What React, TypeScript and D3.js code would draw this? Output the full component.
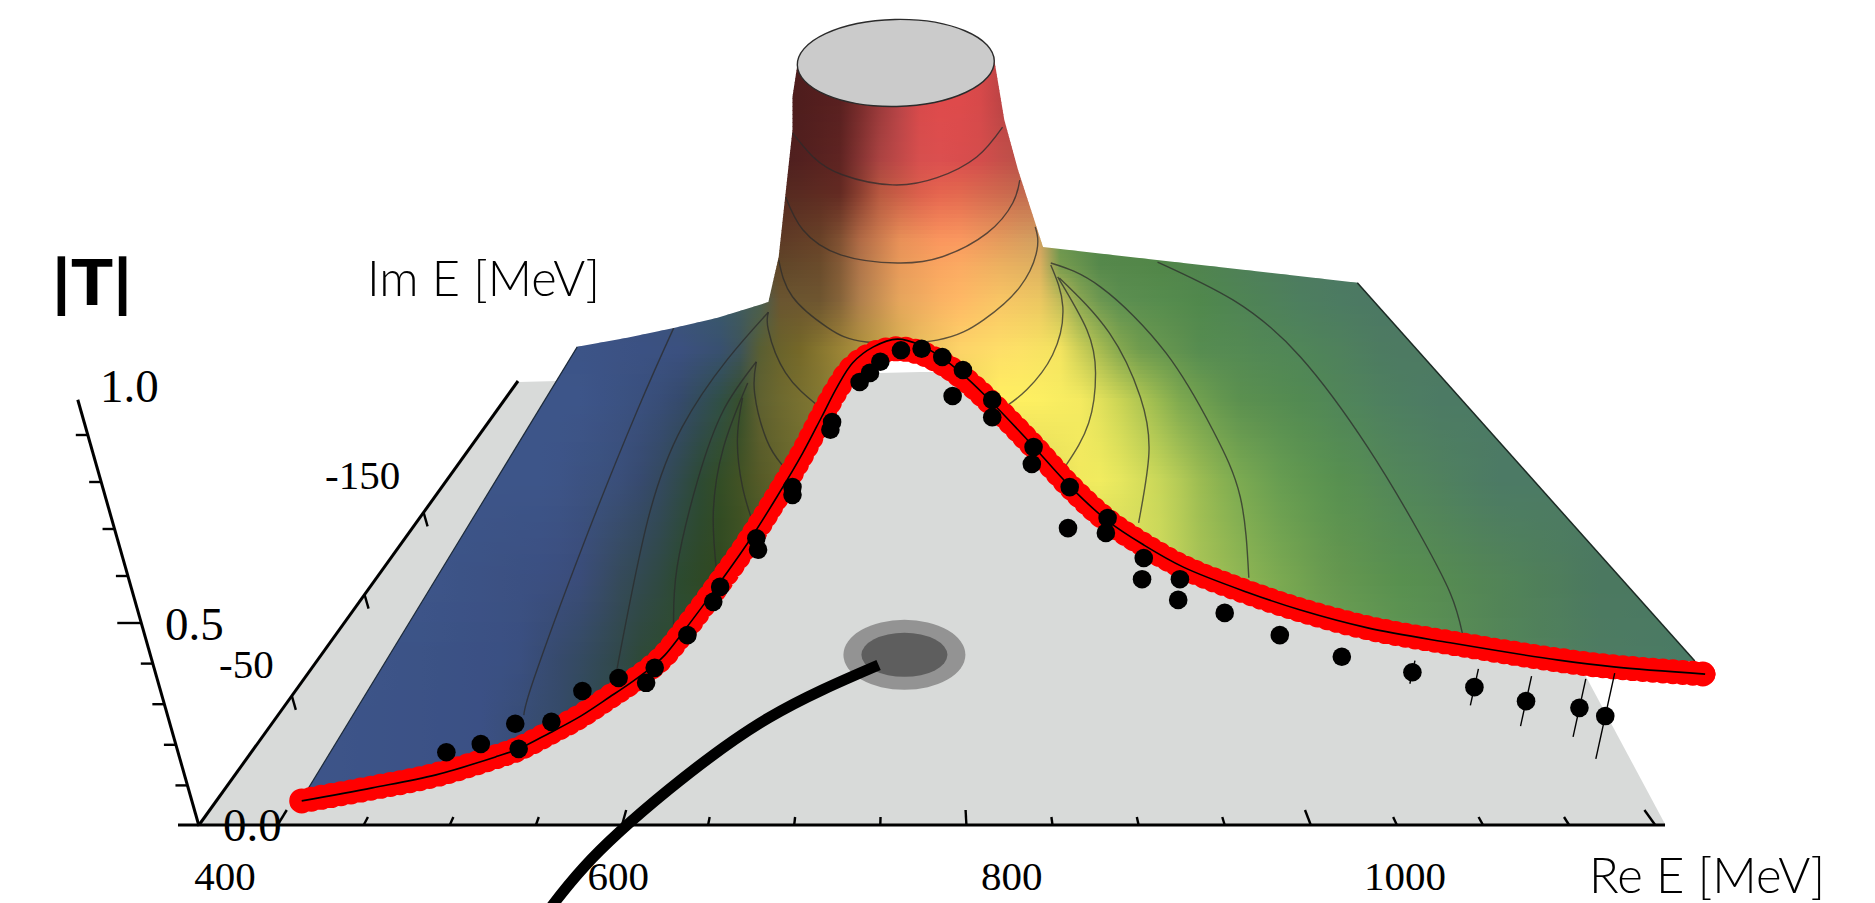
import React, { useMemo } from "react";
import * as d3 from "d3";

// Re E [MeV] and |T|
const curveRe = [414,455,492,528,540,558,576,593,605,616,625,635,655,673,690,705,716,725,734,746,760,773,786,800,815,837,860,882,903,926,963,994,1033,1081,1144,1176,1229];
const curveT = [.05,.077,.104,.143,.158,.191,.226,.266,.295,.324,.353,.398,.494,.585,.681,.772,.847,.909,.959,.992,1.008,.996,.969,.928,.876,.793,.703,.631,.581,.535,.483,.446,.409,.378,.342,.328,.313];
// the thick red tube sits a little lower than the black line at the peak
const tubeT = [.05,.077,.104,.143,.158,.191,.226,.266,.295,.324,.353,.398,.494,.585,.681,.772,.847,.905,.95,.978,.988,.98,.958,.922,.873,.793,.703,.631,.581,.535,.483,.446,.409,.378,.342,.328,.313];

// measured points
const dotRe = [498,518,538,540,559,577,598,614,619,638,653,657,678,679,699,699,722,721,738,744,750,762,774,786,798,792,815,815,839,838,860,859,882,881,903,902,924,923,950,982,1018,1059,1095,1125,1156,1171];
const dotT = [.151,.168,.21,.158,.214,.278,.305,.295,.326,.394,.463,.494,.595,.571,.701,.685,.836,.82,.919,.938,.961,.985,.988,.971,.944,.89,.882,.846,.784,.749,.701,.616,.637,.606,.554,.51,.51,.467,.44,.394,.349,.317,.286,.257,.243,.226];
const dotErr = [0,0,0,0,0,0,0,0,0,0,0,0,0,0,0,0,0,0,0,0,0,0,0,0,0,0,0,0,0,0,0,0,0,0,0,0,0,0,0,0,0,.024,.038,.052,.06,.089];

// outline of the surface above the curve, from the right end anticlockwise
const surfaceRe = [1223,1027,844.5,840,830,822,816,702,699,699,695,691,685,655,630,603,574,418];
const surfaceT = [.34,1.125,1.199,1.249,1.359,1.463,1.592,1.581,1.511,1.442,1.311,1.179,1.085,1.052,1.031,1.011,.992,.077];

// floor plane
const floorRe = [354,1206,1065,773,540];
const floorT = [0,0,.94,.94,.919];

// contour lines of |T|, each as Re and height pairs
const contours: [number, number][][] = [
  [[699,1.436],[711,1.386],[728,1.349],[757,1.328],[783,1.343],[806,1.386],[821,1.448]],
  [[695,1.303],[705,1.235],[727,1.183],[760,1.166],[786,1.179],[812,1.228],[827,1.291],[831,1.338]],
  [[691,1.172],[699,1.096],[719,1.033],[742,1.002],[783,1.006],[810,1.048],[831,1.116],[841,1.193],[840,1.241]],
  [[685,1.064],[685,1.027],[695,.938],[714,.869]],
  [[849,1.162],[856,1.075],[850,.975],[835,.903],[824,.871]],
  [[678,.961],[677,.896],[684,.799],[693,.747]],
  [[853,1.137],[870,1.027],[875,.938],[871,.834],[858,.747]],
  [[854,1.135],[883,1.021],[901,.888],[906,.772],[900,.627]],
  [[849,1.166],[878,1.116],[916,.979],[943,.82],[959,.681],[964,.513]],
  [[911,1.168],[955,1.089],[994,.971],[1033,.784],[1062,.612],[1081,.481],[1088,.398]],
  [[630,1.031],[609,.861],[577,.577],[549,.305],[543,.228]],
  [[685,1.064],[661,.965],[635,.826],[615,.633],[597,.322]],
  [[678,.961],[659,.861],[644,.716],[632,.535],[630,.411]],
  [[673,.917],[659,.784],[653,.647],[655,.523]],
  [[670,.886],[667,.799],[670,.701],[676,.627]],
];

// thick black path to the pole
const pathRe = [749,685,627,578,541];
const pathT = [.332,.222,.073,-.087,-.259];
const poleRe = 764;
const poleT = .353;
const capRe = 759;
const capT = 1.581;

const reTickValues = d3.range(400, 1201, 50);
const reLabels = [400, 600, 800, 1000];
const imTickValues = [-50, -100, -150];
const imLabels = [-50, -150];
const tTickValues = [.1,.2,.3,.4,.5,.6,.7,.8,.9];
const tLabels = [{ v: "1.0", x: 100, y: 402 }, { v: "0.5", x: 165, y: 640 }, { v: "0.0", x: 223, y: 841 }];

// colour of the painted surface, sampled from the picture by image row
const topStops: [number, string][] = [[780,"#4a1c1c"],[845,"#5a2020"],[870,"#8a3333"],[900,"#b84447"],[925,"#e04a4b"],[975,"#dd4a4b"],[1010,"#b24242"]];
const lowStops: [number, string][] = [[300,"#3d5589"],[480,"#3b5085"],[560,"#354a68"],[600,"#2f4a4c"],[1400,"#5f9555"],[1680,"#4a7a65"]];
const shadeRows: { y: number; stops: [number, string][] }[] = [
  { y: 10, stops: topStops },
  { y: 100, stops: topStops },
  { y: 160, stops: [[785,"#4d1f1e"],[843,"#602422"],[875,"#a54240"],[925,"#dc5050"],[975,"#d84c4c"],[1015,"#bb5048"]] },
  { y: 193, stops: [[785,"#552a20"],[843,"#642a22"],[880,"#b85840"],[925,"#e0604e"],[950,"#e8684f"],[1019,"#c46a4e"]] },
  { y: 240, stops: [[778,"#5d3a26"],[830,"#6a4428"],[860,"#b06a45"],[900,"#e89058"],[950,"#ff9860"],[1000,"#e49a5c"],[1040,"#d0a060"],[1050,"#6f9a50"],[1100,"#55884b"],[1200,"#518648"],[1300,"#4d7e5c"]] },
  { y: 265, stops: [[775,"#5f4528"],[830,"#6c4c2c"],[860,"#b0754a"],[900,"#e89a5a"],[950,"#ffa862"],[1000,"#ecb060"],[1040,"#dcb060"],[1052,"#7d9f4f"],[1100,"#55884b"],[1167,"#518648"],[1267,"#4e7e5c"],[1340,"#4c7864"]] },
  { y: 300, stops: [[640,"#3b5080"],[720,"#3a5a6a"],[765,"#4a5f4f"],[775,"#6a5530"],[830,"#6f5530"],[860,"#b07f4c"],[900,"#e6a55c"],[950,"#ffb565"],[1000,"#f8c565"],[1050,"#e8c860"],[1070,"#98ad52"],[1110,"#5d9050"],[1200,"#50884c"],[1300,"#4d7e5f"],[1370,"#4c7864"]] },
  { y: 350, stops: [[570,"#3c5488"],[680,"#3b5080"],[735,"#37506a"],[752,"#4a5a38"],[765,"#62602e"],[800,"#756828"],[870,"#b5983f"],[920,"#e8c05c"],[960,"#fdd468"],[1010,"#fee068"],[1060,"#f4e460"],[1090,"#b8c452"],[1130,"#749f4e"],[1200,"#568c50"],[1300,"#508658"],[1390,"#4d7a62"]] },
  { y: 400, stops: [[520,"#3d5589"],[583,"#3d5589"],[650,"#3a4f7c"],[683,"#35496a"],[717,"#2f4f4a"],[740,"#374f2c"],[757,"#5e6030"],[783,"#6f6a2f"],[817,"#807530"],[1000,"#fff060"],[1033,"#fdf062"],[1083,"#f3ea60"],[1117,"#ced656"],[1150,"#a3bf50"],[1183,"#7aa74f"],[1233,"#5c914f"],[1300,"#528a52"],[1383,"#4e8060"],[1433,"#4c7a64"]] },
  { y: 480, stops: [[490,"#3d5589"],[550,"#3d5589"],[617,"#3a4f7a"],[650,"#36486a"],[683,"#2f4a48"],[710,"#2c4a28"],[733,"#3c5023"],[767,"#5b5c28"],[1090,"#f6ee60"],[1117,"#e8e85e"],[1167,"#c2d358"],[1200,"#9cbc52"],[1233,"#7fac51"],[1283,"#659c51"],[1333,"#58914f"],[1400,"#52865a"],[1500,"#4c7a65"]] },
  { y: 580, stops: [[420,"#3d5589"],[550,"#3b4f80"],[583,"#3a4c78"],[617,"#354a5c"],[650,"#30484a"],[683,"#2c4a2c"],[717,"#30481f"],[1150,"#d8e05e"],[1200,"#a8c456"],[1250,"#8ab352"],[1283,"#7aa851"],[1333,"#66984f"],[1400,"#58904f"],[1450,"#558a52"],[1600,"#4b7860"]] },
  { y: 660, stops: [[360,"#3d5589"],[517,"#3a4f82"],[550,"#374a70"],[583,"#344a60"],[617,"#30484a"],[650,"#2d4a30"],[1300,"#75a853"],[1400,"#619755"],[1500,"#538558"],[1600,"#4e7c62"],[1680,"#4a7a65"]] },
  { y: 720, stops: lowStops },
  { y: 815, stops: lowStops },
];

const W = 1875;
const H = 903;
const BASE = 825;
const serif = "'Liberation Serif', serif";
const sans = "Lato, 'Noto Sans', sans-serif";

const xRe = d3.scaleLinear().domain([400, 1200]).range([277.6, 1655.2]);
const yT = d3.scaleLinear().domain([0, 1]).range([BASE, 343]);
const reLabelX = d3.scaleLinear().domain([400, 1000]).range([225, 1405]);
const vanish: [number, number] = [911, -210];

// axis for Im E rises along the floor's left edge with perspective
const imFrac = d3.scaleLinear().domain([0, -50, -100, -150, -250]).range([0, 0.291, 0.519, 0.704, 1]);
const imX = d3.scaleLinear().domain([0, 1]).range([199, 518]);
const imY = d3.scaleLinear().domain([0, 1]).range([BASE, 381]);
// |T| axis leans left
const axisTY = d3.scaleLinear().domain([0, 0.5, 1]).range([826, 623, 388]);
const axisTX = (v: number) => 199 - (826 - axisTY(v)) * (122 / 429);

function sampleRow(stops: [number, string][], x: number): string {
  if (x <= stops[0][0]) return stops[0][1];
  const last = stops[stops.length - 1];
  if (x >= last[0]) return last[1];
  const i = d3.bisectRight(stops.map((s) => s[0]), x);
  const [x0, c0] = stops[i - 1];
  const [x1, c1] = stops[i];
  return d3.interpolateRgb(c0, c1)((x - x0) / (x1 - x0));
}

function sampleAt(y: number, x: number): string {
  const ys = shadeRows.map((r) => r.y);
  const i = Math.min(Math.max(d3.bisectRight(ys, y), 1), ys.length - 1);
  const a = shadeRows[i - 1];
  const b = shadeRows[i];
  const t = Math.max(0, Math.min(1, (y - a.y) / (b.y - a.y)));
  return d3.interpolateRgb(sampleRow(a.stops, x), sampleRow(b.stops, x))(t);
}

const smooth = d3.line<[number, number]>().x((d) => xRe(d[0])).y((d) => yT(d[1])).curve(d3.curveCatmullRom.alpha(0.5));
const natural = d3.line<[number, number]>().x((d) => xRe(d[0])).y((d) => yT(d[1])).curve(d3.curveNatural);
const straight = d3.line<[number, number]>().x((d) => xRe(d[0])).y((d) => yT(d[1]));
const zip = (a: number[], b: number[]) => a.map((v, i) => [v, b[i]] as [number, number]);

export default function App() {
  const curve = zip(curveRe, curveT);
  const curveD = smooth(curve) as string;
  const tubeD = smooth(zip(curveRe, tubeT)) as string;
  const surface = zip(surfaceRe, surfaceT);
  const clipD = useMemo(() => {
    const lower = curve.filter((p) => p[0] > surfaceRe[surfaceRe.length - 1] && p[0] < surfaceRe[0]);
    const body = smooth(lower) as string;
    const tail = straight(surface) as string;
    return `${tail}L${body.slice(1)}Z`;
  }, []);

  const strips = useMemo(() => {
    const STEP = 4;
    const GRID = 20;
    const x0 = 280;
    const x1 = 1720;
    const out: { y: number; id: string; stops: { o: number; c: string }[] }[] = [];
    for (let y = 14; y < 815; y += STEP) {
      const stops: { o: number; c: string }[] = [];
      for (let x = x0; x <= x1; x += GRID) {
        stops.push({ o: (x - x0) / (x1 - x0), c: sampleAt(y + STEP / 2, x) });
      }
      out.push({ y, id: `strip-${y}`, stops });
    }
    return { out, x0, x1, STEP };
  }, []);

  return (
    <svg width={W} height={H} viewBox={`0 0 ${W} ${H}`} style={{ position: "absolute", left: 0, top: 0, display: "block", background: "#fff" }}>
      <defs>
        <clipPath id="surface-clip"><path d={clipD} /></clipPath>
        {strips.out.map((s) => (
          <linearGradient key={s.id} id={s.id} gradientUnits="userSpaceOnUse" x1={strips.x0} x2={strips.x1} y1={0} y2={0}>
            {s.stops.map((st, i) => <stop key={i} offset={st.o} stopColor={st.c} />)}
          </linearGradient>
        ))}
      </defs>

      {/* floor */}
      <path d={(straight(zip(floorRe, floorT)) as string) + "Z"} fill="#d8dad9" />
      <ellipse cx={xRe(poleRe)} cy={yT(poleT)} rx={61} ry={35} fill="#939393" />
      <ellipse cx={xRe(poleRe)} cy={yT(poleT)} rx={43} ry={22} fill="#5e5e5e" />

      {/* surface */}
      <g clipPath="url(#surface-clip)">
        {strips.out.map((s) => (
          <rect key={s.id} x={strips.x0} y={s.y} width={strips.x1 - strips.x0} height={strips.STEP + 0.6} fill={`url(#${s.id})`} />
        ))}
        {contours.map((c, i) => (
          <path key={i} d={natural(c) as string} fill="none" stroke="#2b2b2b" strokeOpacity={0.75} strokeWidth={1.4} />
        ))}
      </g>
      <path d={straight([surface[0], surface[1]]) as string} stroke="#1c2a24" strokeWidth={1.5} fill="none" />
      <path d={straight([surface[16], surface[17]]) as string} stroke="#1c2a3a" strokeWidth={1.2} fill="none" />
      <ellipse cx={xRe(capRe)} cy={yT(capT)} rx={98.5} ry={43.5} transform={`rotate(-1.2 ${xRe(capRe)} ${yT(capT)})`} fill="#cbcbcb" stroke="#2b2b2b" strokeWidth={1.4} />

      {/* theory curve */}
      <path d={tubeD} fill="none" stroke="#ff0000" strokeWidth={21} strokeLinecap="round" />
      <path d={tubeD} fill="none" stroke="#ff0000" strokeWidth={25} strokeLinecap="round" strokeDasharray="0 10" />
      <path d={curveD} fill="none" stroke="#000" strokeWidth={1.6} />

      {/* data */}
      {dotRe.map((re, i) => {
        const cx = xRe(re);
        const cy = yT(dotT[i]);
        const err = dotErr[i];
        if (!err) return null;
        const dy = yT(0) - yT(err);
        return <line key={i} x1={cx + dy * 0.22} y1={cy - dy} x2={cx - dy * 0.22} y2={cy + dy} stroke="#000" strokeWidth={1.4} />;
      })}
      {dotRe.map((re, i) => (
        <circle key={i} cx={xRe(re)} cy={yT(dotT[i])} r={9.3} fill="#000" />
      ))}

      {/* axes */}
      <line x1={178} x2={1665} y1={BASE} y2={BASE} stroke="#000" strokeWidth={3} />
      {reTickValues.map((v) => {
        const x = xRe(v);
        const len = v % 200 === 0 ? 15 : 8;
        return <line key={v} x1={x} y1={BASE} x2={x + ((vanish[0] - x) / (BASE - vanish[1])) * len} y2={BASE - len} stroke="#000" strokeWidth={2.4} />;
      })}
      <line x1={imX(0)} y1={imY(0)} x2={imX(1)} y2={imY(1)} stroke="#000" strokeWidth={3} />
      {imTickValues.map((v) => {
        const f = imFrac(v);
        const len = 14;
        return <line key={v} x1={imX(f)} y1={imY(f)} x2={imX(f) + 4} y2={imY(f) + len} stroke="#000" strokeWidth={2.4} />;
      })}
      <line x1={axisTX(0)} y1={axisTY(0)} x2={axisTX(0.975)} y2={axisTY(0.975)} stroke="#000" strokeWidth={3} />
      {tTickValues.map((v) => (
        <line key={v} x1={axisTX(v)} y1={axisTY(v)} x2={axisTX(v) - (v === 0.5 ? 24 : 12)} y2={axisTY(v)} stroke="#000" strokeWidth={2.4} />
      ))}

      {/* labels */}
      <g fontFamily={serif} fill="#000">
        {reLabels.map((v) => (
          <text key={v} x={reLabelX(v)} y={890} fontSize={41} textAnchor="middle">{v}</text>
        ))}
        {tLabels.map((l) => (
          <text key={l.v} x={l.x} y={l.y} fontSize={47}>{l.v}</text>
        ))}
        {imLabels.map((v) => (
          <text key={v} x={v === -50 ? 219 : 325} y={v === -50 ? 678 : 489} fontSize={41}>{v}</text>
        ))}
      </g>
      <text x={367} y={296} fontFamily={sans} fontWeight={300} fontSize={50} fill="#000" textLength={233} lengthAdjust="spacingAndGlyphs">Im E [MeV]</text>
      <text x={1589} y={893} fontFamily={sans} fontWeight={300} fontSize={50} fill="#000" textLength={236} lengthAdjust="spacingAndGlyphs">Re E [MeV]</text>
      <text x={52} y={305} fontFamily={sans} fontWeight={900} fontSize={62} fill="#000" textLength={80} lengthAdjust="spacingAndGlyphs">|T|</text>

      {/* path to pole */}
      <path d={natural(zip(pathRe, pathT)) as string} fill="none" stroke="#000" strokeWidth={11} />
    </svg>
  );
}
